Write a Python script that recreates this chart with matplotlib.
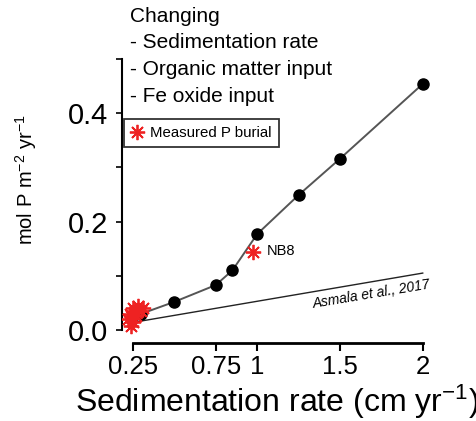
import matplotlib
matplotlib.use("Agg")
import matplotlib.pyplot as plt
from matplotlib.lines import Line2D

plt.rcParams['font.family'] = ['Liberation Sans', 'DejaVu Sans']
plt.rcParams['mathtext.fontset'] = 'custom'
plt.rcParams['mathtext.rm'] = 'Liberation Sans'
plt.rcParams['mathtext.it'] = 'Liberation Sans:italic'

# Model results (black circles)
model_x = [0.25, 0.3, 0.5, 0.75, 0.85, 1.0, 1.25, 1.5, 2.0]
model_y = [0.025, 0.03, 0.052, 0.083, 0.11, 0.177, 0.249, 0.316, 0.454]

# Measured P burial (red asterisks)
meas_x = [0.22, 0.23, 0.24, 0.25, 0.25, 0.26, 0.27, 0.28, 0.30, 0.31, 0.24]
meas_y = [0.02, 0.03, 0.025, 0.015, 0.04, 0.035, 0.025, 0.045, 0.035, 0.04, 0.008]
nb8_x = [0.975]
nb8_y = [0.144]

# Asmala et al., 2017 relation
asmala_x = [0.25, 2.0]
asmala_y = [0.014, 0.105]

xticks = [0.25, 0.75, 1, 1.5, 2]
xticklabels = ['0.25', '0.75', '1', '1.5', '2']
yticks = [0.0, 0.2, 0.4]
yticklabels = ['0.0', '0.2', '0.4']
yminor = [0.1, 0.3, 0.5]

W, H = 477, 421
fig = plt.figure(figsize=(W / 100, H / 100), dpi=100)
L, R, T, B = 122, 431, 59, 343
ax = fig.add_axes([L / W, (H - B) / H, (R - L) / W, (B - T) / H])
ax.set_xlim(0.183, 2.05)
ax.set_ylim(-0.024, 0.5)

ax.plot(asmala_x, asmala_y, color='#222222', lw=1.0, zorder=2)
ax.plot(model_x, model_y, color='#555555', lw=1.4, marker='o', ms=8,
        mfc='black', mec='black', zorder=3)
ast = (8, 2, 0)
ax.plot(meas_x, meas_y, ls='none', marker=ast, ms=11, mec='#ee2222', mew=1.3, zorder=4)
ax.plot(nb8_x, nb8_y, ls='none', marker=ast, ms=11, mec='#ee2222', mew=1.3, zorder=4)
ax.text(1.06, 0.145, 'NB8', fontsize=10.5, va='center', ha='left')
ax.text(1.69, 0.066, 'Asmala et al., 2017', fontsize=10, style='italic',
        rotation=9.5, ha='center', va='center')

for s in ['top', 'right']:
    ax.spines[s].set_visible(False)
ax.spines['bottom'].set_bounds(0.25, 2)
ax.spines['left'].set_bounds(0, 0.5)
ax.spines['bottom'].set_linewidth(2)
ax.spines['left'].set_linewidth(1.5)

ax.set_xticks(xticks)
ax.set_xticklabels(xticklabels)
ax.set_yticks(yticks)
ax.set_yticklabels(yticklabels)
ax.set_yticks(yminor, minor=True)
ax.tick_params(axis='x', labelsize=18.5, length=6, width=1.5, direction='out', pad=3)
ax.tick_params(axis='y', which='both', labelsize=21, length=4, width=1.2, direction='out', pad=6)

ax.set_xlabel('Sedimentation rate (cm yr$^{-1}$)', fontsize=23)
ax.xaxis.set_label_coords(0.5, (B - 383) / (B - T))
ax.set_ylabel('mol P m$^{-2}$ yr$^{-1}$', fontsize=14.5)
ax.yaxis.set_label_coords((39 - L) / (R - L), (B - 180) / (B - T))

fig.text(130 / W, 1 - 7 / H,
         'Changing\n- Sedimentation rate\n- Organic matter input\n- Fe oxide input',
         fontsize=15, va='top', ha='left', linespacing=1.5)

handle = Line2D([], [], ls='none', marker=ast, ms=11, mec='#ee2222', mew=1.3)
leg = ax.legend([handle], ['Measured P burial'], loc='upper left',
                bbox_to_anchor=(124 / W, 1 - 119 / H), bbox_transform=fig.transFigure,
                fontsize=10.8, frameon=True, fancybox=False, borderpad=0.45,
                handlelength=0.9, handletextpad=0.4, borderaxespad=0)
leg.get_frame().set_edgecolor('black')
leg.get_frame().set_linewidth(1.3)

fig.savefig('out.png', dpi=100)
